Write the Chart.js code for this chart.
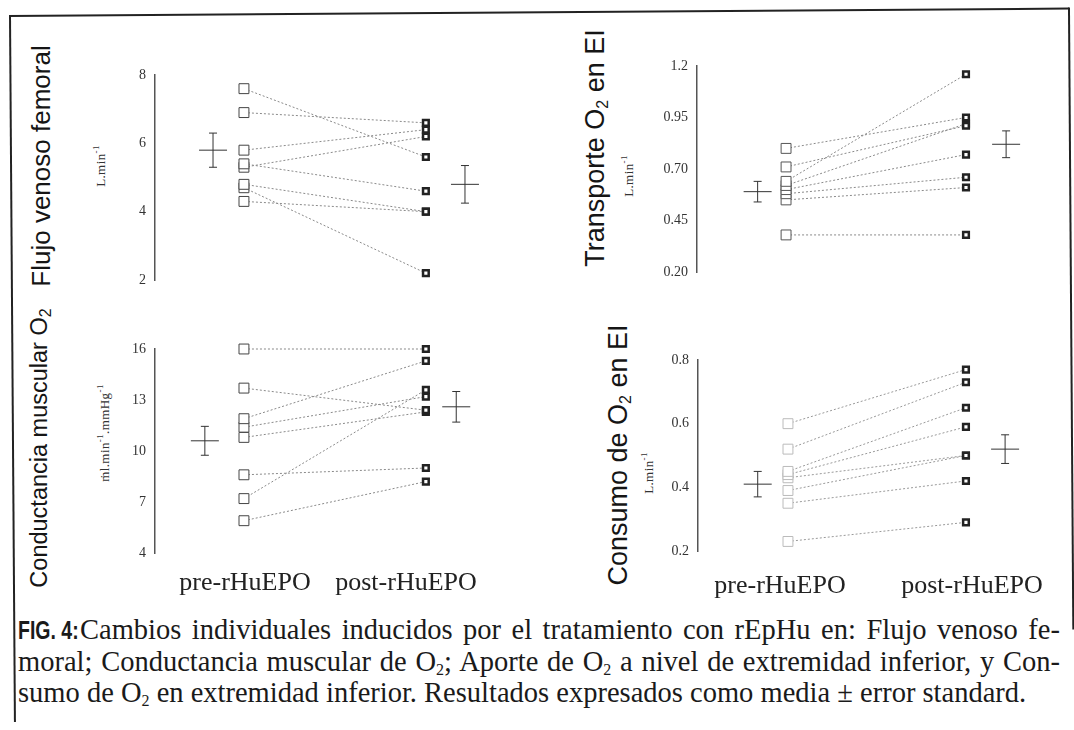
<!DOCTYPE html>
<html>
<head>
<meta charset="utf-8">
<script src="https://cdn.jsdelivr.net/npm/chart.js@4.4.0/dist/chart.umd.min.js"></script>
<style>
  body { margin: 0; width: 1074px; height: 730px; position: relative; overflow: hidden; background: #fff; font-family: 'Liberation Serif', 'Times New Roman', serif; color: #1a1a1a; }
  canvas { position: absolute; }
  .title { position: absolute; transform: translate(-50%, -50%) rotate(-90deg); white-space: nowrap; font-family: 'Liberation Sans', Arial, sans-serif; font-size: 26px; color: #151515; }
  .title sub { font-size: 16px; vertical-align: -4px; }
  .unit { position: absolute; transform: translate(-50%, -50%) rotate(-90deg); white-space: nowrap; font-size: 13px; letter-spacing: 0.4px; color: #333; }
  .unit sup { font-size: 9px; }
  .xlab { position: absolute; transform: translate(-50%, -50%); white-space: nowrap; font-size: 26px; color: #222; }
  .caption { position: absolute; left: 18px; top: 614px; width: 1042px; font-size: 28.5px; line-height: 31px; color: #1a1a1a; }
  .caption div { text-align: justify; text-align-last: justify; }
  .caption div.last { text-align-last: left; }
  .caption .fig { display: inline-block; width: 62px; white-space: nowrap; }
  .caption .fig b { display: inline-block; transform: scaleX(0.75); transform-origin: 0 50%; font-family: 'Liberation Sans', Arial, sans-serif; font-weight: bold; font-size: 26px; }
  .caption sub { font-size: 16px; vertical-align: -4px; line-height: 0; }
  .frame { position: absolute; left: 9px; top: 15px; transform-origin: 0 0; transform: rotate(-0.4deg); }
  .frame div { position: absolute; background: #222; }
</style>
</head>
<body>

<div class="frame">
  <div style="left:0; top:0; width:1060px; height:2px;"></div>
  <div style="left:0; top:0; width:2px; height:707px;"></div>
  <div style="left:1059px; top:0; width:2px; height:622px;"></div>
</div>

<canvas id="flujo" width="400" height="241" style="left:115px; top:57px;"></canvas>
<canvas id="transporte" width="403" height="242" style="left:657px; top:48px;"></canvas>
<canvas id="conductancia" width="400" height="240" style="left:115px; top:331px;"></canvas>
<canvas id="consumo" width="402" height="227" style="left:658px; top:342px;"></canvas>

<div class="title" style="left:41px; top:166px;">Flujo venoso femoral</div>
<div class="title" style="left:596px; top:148px; font-size:27px;">Transporte O<sub>2</sub> en EI</div>
<div class="title" style="left:40px; top:448px; font-size:23.5px;">Conductancia muscular O<sub>2</sub></div>
<div class="title" style="left:619px; top:455px; font-size:27px;">Consumo de O<sub>2</sub> en EI</div>

<div class="unit" style="left:100px; top:166px;">L.min<sup>-1</sup></div>
<div class="unit" style="left:628px; top:176px;">L.min<sup>-1</sup></div>
<div class="unit" style="left:104px; top:433px;">ṁl.min<sup>-1</sup>.mmHg<sup>-1</sup></div>
<div class="unit" style="left:648px; top:473px;">L.min<sup>-1</sup></div>

<div class="xlab" id="lab0" style="left:245px; top:582px;"></div>
<div class="xlab" id="lab1" style="left:406px; top:582px;"></div>
<div class="xlab" id="lab2" style="left:780px; top:585px;"></div>
<div class="xlab" id="lab3" style="left:972px; top:585px;"></div>

<div class="caption">
  <div><span class="fig"><b>FIG. 4:</b></span>Cambios individuales inducidos por el tratamiento con rEpHu en: Flujo venoso fe-</div>
  <div>moral; Conductancia muscular de O<sub>2</sub>; Aporte de O<sub>2</sub> a nivel de extremidad inferior, y Con-</div>
  <div class="last">sumo de O<sub>2</sub> en extremidad inferior. Resultados expresados como media ± error standard.</div>
</div>

<script>
const groups = ['pre-rHuEPO', 'post-rHuEPO'];

// Flujo venoso femoral (L.min-1)
const flujoTicks = [2, 4, 6, 8];
const flujoTickLabels = ['2', '4', '6', '8'];
const flujoPre = [7.6, 6.9, 5.8, 5.4, 5.3, 4.8, 4.7, 4.3];
const flujoPost = [5.6, 6.6, 6.4, 4.6, 6.2, 4.0, 2.2, 4.0];
const flujoMean = [5.8, 4.8];
const flujoSE = [0.5, 0.55];

// Transporte O2 en EI (L.min-1)
const transTicks = [0.20, 0.45, 0.70, 0.95, 1.2];
const transTickLabels = ['0.20', '0.45', '0.70', '0.95', '1.2'];
const transPre = [0.80, 0.71, 0.64, 0.62, 0.60, 0.58, 0.55, 0.38];
const transPost = [0.95, 0.91, 1.16, 0.92, 0.77, 0.66, 0.61, 0.38];
const transMean = [0.59, 0.82];
const transSE = [0.05, 0.065];

// Conductancia muscular O2 (ml.min-1.mmHg-1)
const condTicks = [4, 7, 10, 13, 16];
const condTickLabels = ['4', '7', '10', '13', '16'];
const condPre = [16.0, 13.7, 11.9, 11.4, 10.8, 8.6, 7.2, 5.9];
const condPost = [16.0, 12.4, 15.3, 13.2, 12.3, 9.0, 13.6, 8.2];
const condMean = [10.6, 12.6];
const condSE = [0.85, 0.9];

// Consumo de O2 en EI (L.min-1)
const consTicks = [0.2, 0.4, 0.6, 0.8];
const consTickLabels = ['0.2', '0.4', '0.6', '0.8'];
const consPre = [0.60, 0.52, 0.45, 0.44, 0.43, 0.39, 0.35, 0.23];
const consPost = [0.77, 0.73, 0.65, 0.59, 0.50, 0.50, 0.42, 0.29];
const consMean = [0.41, 0.52];
const consSE = [0.04, 0.045];

// x labels under the bottom panels
document.getElementById('lab0').textContent = groups[0];
document.getElementById('lab1').textContent = groups[1];
document.getElementById('lab2').textContent = groups[0];
document.getElementById('lab3').textContent = groups[1];

function makePanel(canvasId, pre, post, mean, se, ticks, tickLabels, look) {
    // one dataset per subject: pre (x=1) joined to post (x=2)
    const subjects = pre.map((v, i) => ({
        data: [{ x: 1, y: v }, { x: 2, y: post[i] }],
        borderColor: look.lineColor,
        borderWidth: 1,
        borderDash: [2, 2],
        pointStyle: 'rect',
        pointRadius: [7, 4],
        pointBorderWidth: [1, 2.5],
        pointBorderColor: [look.preColor, '#222'],
        pointBackgroundColor: '#fff',
        clip: false
    }));

    // mean +- SE crosses beside each group
    const means = mean.map((m, i) => ({
        data: [
            { x: look.meanX[i], y: m - se[i] },
            { x: look.meanX[i], y: m },
            { x: look.meanX[i], y: m + se[i] }
        ],
        borderColor: '#333',
        borderWidth: 1,
        pointStyle: 'line',
        pointRadius: [4, 14, 4],
        pointBorderWidth: 1,
        pointBorderColor: '#333',
        clip: false
    }));

    new Chart(document.getElementById(canvasId), {
        type: 'line',
        data: { datasets: subjects.concat(means) },
        options: {
            responsive: false,
            animation: false,
            devicePixelRatio: 1,
            events: [],
            layout: { padding: { top: 18, bottom: 18, left: 0, right: 0 } },
            plugins: { legend: { display: false }, tooltip: { enabled: false } },
            scales: {
                x: { type: 'linear', display: false, min: look.xMin, max: look.xMax },
                y: {
                    min: ticks[0],
                    max: ticks[ticks.length - 1],
                    afterBuildTicks: s => { s.ticks = ticks.map(v => ({ value: v })); },
                    afterFit: s => { s.width = 40; },
                    grid: { display: false, drawTicks: false },
                    border: { display: true, color: '#555', width: 1.5 },
                    ticks: {
                        padding: 9,
                        color: '#333',
                        font: { family: 'Liberation Serif', size: 14 },
                        callback: (v, i) => tickLabels[i]
                    }
                }
            }
        }
    });
}

makePanel('flujo', flujoPre, flujoPost, flujoMean, flujoSE, flujoTicks, flujoTickLabels,
    { xMin: 0.511, xMax: 2.446, meanX: [0.83, 2.215], lineColor: '#8a8a8a', preColor: '#444' });
makePanel('transporte', transPre, transPost, transMean, transSE, transTicks, transTickLabels,
    { xMin: 0.505, xMax: 2.478, meanX: [0.842, 2.223], lineColor: '#8a8a8a', preColor: '#555' });
makePanel('conductancia', condPre, condPost, condMean, condSE, condTicks, condTickLabels,
    { xMin: 0.511, xMax: 2.446, meanX: [0.785, 2.167], lineColor: '#8a8a8a', preColor: '#444' });
makePanel('consumo', consPre, consPost, consMean, consSE, consTicks, consTickLabels,
    { xMin: 0.4945, xMax: 2.4835, meanX: [0.83, 2.22], lineColor: '#999', preColor: '#bbb' });
</script>
</body>
</html>
